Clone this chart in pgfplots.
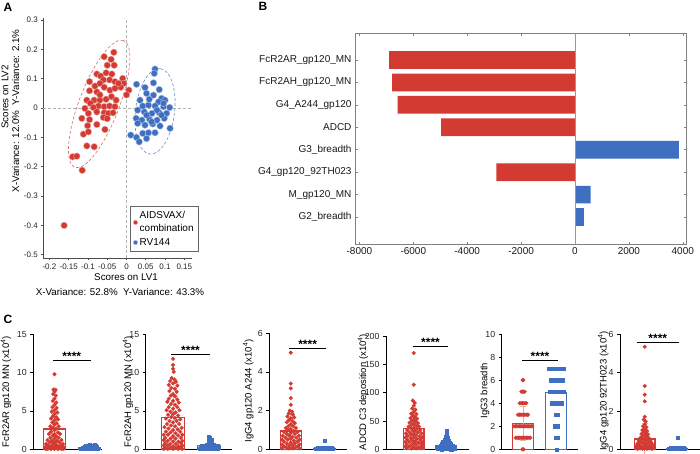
\documentclass[border=0pt]{standalone}
\usepackage{pgfplots}
\pgfplotsset{compat=1.18}
\usetikzlibrary{shapes.geometric}
\usepackage{fontspec}
\setmainfont{Liberation Sans}
\definecolor{cred}{HTML}{D23A32}
\definecolor{cblue}{HTML}{3E6FC1}
\definecolor{ered}{HTML}{F4A9A4}
\definecolor{eblue}{HTML}{A9C0E8}
\pgfplotsset{
 cax/.style={anchor=south west, scale only axis, axis lines=left,
   axis line style={-, line width=0.9pt, black}, xtick=\empty, ymin=0,
   tick align=outside, major tick length=3pt, ytick style={line width=0.9pt, black},
   tick label style={font=\fontsize{8.8}{10}\selectfont, text=black!85}, clip=false,
   /pgf/number format/assume math mode=true},
 rpt/.style={only marks, mark=*, mark size=1.95pt, mark options={fill=cred, draw=cred, line width=0.2pt}, x filter/.expression={x+1}},
 bpt/.style={only marks, mark=square*, mark size=1.65pt, mark options={fill=cblue, draw=cblue, line width=0.2pt}, x filter/.expression={x+2}},
 rbar/.style={ybar, bar width=0.63, bar shift=0pt, draw=cred, line width=1.3pt, fill=none},
 bbar/.style={ybar, bar width=0.63, bar shift=0pt, draw=cblue, line width=1.3pt, fill=none},
}
\newcommand\sig[3]{\draw[line width=0.8pt] (axis cs:#1,#3) -- (axis cs:#2,#3) node[midway, above=-1.5pt, font=\fontsize{12}{12}\selectfont\bfseries, inner sep=1pt]{****};}
\newcommand\errbar[4]{\addplot[mark=none, draw=#1, line width=0.8pt,
   error bars/y dir=both, error bars/y explicit,
   error bars/error bar style={draw=#1, line width=0.8pt},
   error bars/error mark options={draw=#1, rotate=90, mark size=3.2pt, line width=0.8pt}]
   coordinates {(#2,#3) +- (0,#4)};}
\begin{document}
\begin{tikzpicture}
\fill[white] (0pt,0pt) rectangle (700pt,453pt);
\path[use as bounding box] (0pt,0pt) rectangle (700pt,453pt);

% ---------------- Panel A ----------------
\begin{axis}[at={(43.3pt,195pt)}, anchor=south west, scale only axis, width=148.7pt, height=239.7pt,
 xmin=-0.216, xmax=0.170, ymin=-0.511, ymax=0.306,
 axis lines=left, axis line style={-, draw=black!70, line width=0.6pt},
 xtick={-0.2,-0.15,-0.1,-0.05,0,0.05,0.1,0.15}, xticklabels={-0.2,-0.15,-0.1,-0.05,0,0.05,0.1,0.15},
 ytick={-0.5,-0.4,-0.3,-0.2,-0.1,0,0.1,0.2,0.3}, yticklabels={-0.5,-0.4,-0.3,-0.2,-0.1,0,0.1,0.2,0.3},
 tick label style={font=\fontsize{8}{9}\selectfont, text=black!85},
 tick align=outside, major tick length=2pt, tick style={black!70, line width=0.6pt},
 clip=false,
 legend style={at={(0.583,0.025)}, anchor=south west, draw=black!60, line width=0.6pt,
   font=\fontsize{10}{13}\selectfont, cells={anchor=west, align=left}, inner xsep=3pt, inner ysep=3pt, row sep=1pt},
 legend image code/.code={\draw[#1, mark size=2.2pt] plot coordinates {(0pt,0pt)};},
]
\draw[densely dashed, gray!60] (axis cs:0,-0.511) -- (axis cs:0,0.306);
\draw[densely dashed, gray!60] (axis cs:-0.216,0) -- (axis cs:0.170,0);
\addplot[only marks, mark=*, mark size=3.3pt, mark options={fill=cred, draw=white!55!cred, line width=0.4pt}] coordinates {
(-0.033,0.190) (-0.058,0.175) (-0.040,0.166) (-0.050,0.146) (-0.032,0.146) (-0.077,0.116) (-0.067,0.109) (-0.053,0.120) (-0.038,0.116) (-0.060,0.096) (-0.044,0.096) (-0.030,0.090) (-0.010,0.101) (-0.007,0.084) (0.006,0.061) (0.000,0.045) (-0.015,0.071) (-0.021,0.084) (-0.096,0.090) (-0.082,0.075) (-0.069,0.084) (-0.058,0.071) (-0.043,0.061) (-0.030,0.067) (-0.096,0.059) (-0.077,0.055) (-0.103,0.027) (-0.084,0.027) (-0.069,0.027) (-0.053,0.030) (-0.039,0.039) (-0.094,0.016) (-0.073,0.007) (-0.058,0.005) (-0.044,0.007) (-0.030,0.005) (-0.086,0.002) (-0.099,-0.018) (-0.077,-0.013) (-0.058,-0.016) (-0.047,-0.018) (-0.035,-0.016) (-0.060,-0.032) (-0.050,-0.036) (-0.116,-0.035) (-0.096,-0.039) (-0.077,-0.056) (-0.101,-0.060) (-0.056,-0.073) (-0.112,-0.089) (-0.099,-0.081) (-0.103,-0.129) (-0.084,-0.132) (-0.140,-0.166) (-0.129,-0.164) (-0.115,-0.212) (-0.162,-0.400) (-0.069,0.045) (-0.108,-0.001) (-0.027,0.027)};
\addlegendentry{AIDSVAX/\\combination}
\addplot[only marks, mark=*, mark size=3.3pt, mark options={fill=cblue, draw=white!55!cblue, line width=0.4pt}] coordinates {
(0.074,0.133) (0.072,0.118) (0.026,0.081) (0.048,0.070) (0.070,0.086) (0.085,0.063) (0.052,0.050) (0.070,0.044) (0.091,0.033) (0.100,0.027) (0.083,0.021) (0.035,0.027) (0.057,0.010) (0.074,0.007) (0.096,0.005) (0.112,0.002) (0.029,-0.007) (0.046,-0.013) (0.066,-0.018) (0.085,-0.016) (0.104,-0.018) (0.025,-0.035) (0.040,-0.041) (0.060,-0.039) (0.079,-0.041) (0.098,-0.035) (0.029,-0.052) (0.048,-0.058) (0.068,-0.054) (0.087,-0.061) (0.113,-0.069) (0.011,-0.092) (0.026,-0.100) (0.042,-0.086) (0.057,-0.084) (0.074,-0.084) (0.052,-0.104) (0.033,-0.115) (0.065,-0.047) (0.052,-0.024) (0.079,-0.007) (0.091,-0.024) (0.096,0.016) (0.059,0.030) (0.042,0.007)};
\addlegendentry{RV144}
\node[ellipse, draw=cred!75, densely dashed, line width=0.6pt, minimum width=136pt, minimum height=40pt, inner sep=0pt, rotate=69] at (axis cs:-0.071,0.014) {};
\node[ellipse, draw=cblue!80, densely dashed, line width=0.6pt, minimum width=86pt, minimum height=39pt, inner sep=0pt, rotate=83] at (axis cs:0.074,-0.011) {};
\end{axis}
\node[font=\fontsize{12}{12}\selectfont\bfseries] at (8pt,446pt) {A};
\node[font=\fontsize{9.8}{11}\selectfont] at (126pt,176pt) {Scores on LV1};
\node[font=\fontsize{9.8}{11}\selectfont] at (120pt,161pt) {X-Variance: 52.8\%\ \ Y-Variance: 43.3\%};
\node[font=\fontsize{9.8}{11}\selectfont, rotate=90] at (5pt,356pt) {Scores on LV2};
\node[font=\fontsize{9.8}{11}\selectfont, rotate=90] at (15.5pt,342pt) {X-Variance: 12.0\%\ \ Y-Variance: 2.1\%};

% ---------------- Panel B ----------------
\begin{axis}[at={(355pt,209pt)}, anchor=south west, scale only axis, width=331pt, height=211pt,
 xmin=-8163, xmax=4119, ymin=-0.2, ymax=9.2, y dir=reverse,
 ytick={1,2,3,4,5,6,7,8},
 yticklabels={FcR2AR\_gp120\_MN, FcR2AH\_gp120\_MN, G4\_A244\_gp120, ADCD, G3\_breadth, G4\_gp120\_92TH023, M\_gp120\_MN, G2\_breadth},
 xtick={-8000,-6000,-4000,-2000,0,2000,4000}, xticklabels={-8000,-6000,-4000,-2000,0,2000,4000},
 tick label style={font=\fontsize{10}{12}\selectfont, text=black!90},
 axis line style={draw=black!50, line width=0.8pt}, tick style={black!50, line width=0.6pt},
 major tick length=2.5pt, tick align=inside,
]
\addplot[xbar, bar width=0.79, bar shift=0pt, fill=cred, draw=none] coordinates {(-6900,1) (-6790,2) (-6580,3) (-4970,4) (-2920,6)};
\addplot[xbar, bar width=0.79, bar shift=0pt, fill=cblue, draw=none] coordinates {(3850,5) (580,7) (330,8)};
\draw[black!40, line width=0.8pt] (axis cs:0,-0.2) -- (axis cs:0,9.2);
\end{axis}
\node[font=\fontsize{12}{12}\selectfont\bfseries] at (263pt,447pt) {B};

% ---------------- Panel C ----------------
\node[font=\fontsize{12}{12}\selectfont\bfseries] at (8pt,134pt) {C};

% C1
\begin{axis}[cax, at={(33.3pt,3.7pt)}, width=68.7pt, height=115pt, xmin=0.394, xmax=2.357, ymax=15, ytick={0,5,10,15}]
\addplot[rpt] coordinates {(0,9.8) (-0.03,7.8) (0.03,7.75) (0,7.5) (-0.04,7.2) (0.04,7.0) (0,6.6) (-0.05,6.3) (0.05,6.1) (0,5.8) (-0.06,5.5) (0.06,5.4) (0,5.1) (-0.08,4.9) (0.08,4.8) (0,4.6) (-0.05,4.3) (0.05,4.2) (-0.1,4.0) (0.1,3.9) (0,3.8) (-0.06,3.5) (0.06,3.4) (0,3.2) (-0.12,3.0) (0.12,3.0) (-0.05,2.8) (0.05,2.7) (0,2.5) (-0.1,2.3) (0.1,2.2) (-0.16,2.0) (0.16,2.0) (0,2.0) (-0.05,1.8) (0.05,1.7) (-0.12,1.5) (0.12,1.5) (0,1.4) (-0.2,1.2) (0.2,1.2) (-0.07,1.1) (0.07,1.1) (0,0.9) (-0.14,0.9) (0.14,0.9) (-0.24,0.7) (0.24,0.7) (-0.05,0.7) (0.05,0.6) (-0.18,0.5) (0.18,0.5) (0,0.4) (-0.1,0.4) (0.1,0.4) (-0.26,0.3) (0.26,0.3) (-0.22,0.15) (0.22,0.15) (-0.14,0.15) (0.14,0.15) (-0.05,0.15) (0.05,0.15) (-0.26,0.05) (0.26,0.05) (-0.2,0.05) (0.2,0.05) (-0.1,0.05) (0.1,0.05) (0,0.05)};
\addplot[bpt] coordinates {(-0.26,0.05) (-0.19,0.05) (-0.12,0.05) (-0.05,0.05) (0.02,0.05) (0.09,0.05) (0.16,0.05) (0.23,0.05) (-0.2,0.15) (-0.1,0.15) (0,0.15) (0.1,0.15) (0.2,0.15) (-0.15,0.3) (-0.05,0.3) (0.1,0.3) (0.2,0.3) (-0.1,0.45) (0.05,0.45) (0.18,0.45) (0.0,0.6) (0.15,0.6)};
\addplot[rbar] coordinates {(1,2.65)};
\addplot[bbar] coordinates {(2,0.25)};
\errbar{ered}{1}{2.65}{2.5}
\sig{0.95}{2.04}{11.6}
\end{axis}

% C2
\begin{axis}[cax, at={(145.7pt,3.7pt)}, width=86pt, height=115pt, xmin=0.235, xmax=2.64, ymax=15, ytick={0,5,10,15}]
\addplot[rpt] coordinates {(0,11.8) (0,11.0) (0,10.5) (0.02,10.1) (-0.04,9.3) (0.04,9.1) (-0.08,8.9) (0.08,8.8) (0,8.6) (-0.12,8.4) (0.12,8.3) (-0.05,8.0) (0.05,7.9) (-0.1,7.6) (0.1,7.5) (0,7.2) (-0.06,7.0) (0.06,6.9) (-0.12,6.6) (0.12,6.5) (0,6.3) (-0.16,6.2) (0.16,6.1) (-0.06,5.9) (0.06,5.8) (-0.12,5.5) (0.12,5.5) (0,5.3) (-0.18,5.1) (0.18,5.1) (-0.07,4.9) (0.07,4.8) (0,4.6) (-0.14,4.5) (0.14,4.4) (-0.05,4.2) (0.05,4.1) (-0.2,4.0) (0.2,3.9) (-0.1,3.7) (0.1,3.7) (0,3.5) (-0.17,3.3) (0.17,3.3) (-0.06,3.1) (0.06,3.0) (-0.24,2.9) (0.24,2.8) (-0.13,2.7) (0.13,2.6) (0,2.5) (-0.2,2.3) (0.2,2.3) (-0.07,2.2) (0.07,2.1) (-0.26,1.9) (0.26,1.9) (-0.14,1.9) (0.14,1.8) (0,1.7) (-0.22,1.5) (0.22,1.5) (-0.07,1.4) (0.07,1.4) (-0.26,1.2) (0.26,1.1) (-0.15,1.1) (0.15,1.0) (0,1.0) (-0.22,0.8) (0.22,0.8) (-0.08,0.7) (0.08,0.7) (-0.26,0.5) (0.26,0.5) (-0.15,0.5) (0.15,0.4) (0,0.4) (-0.22,0.2) (0.22,0.2) (-0.08,0.2) (0.08,0.2) (-0.26,0.05) (0.26,0.05) (-0.15,0.05) (0.15,0.05) (0,0.05)};
\addplot[bpt] coordinates {(-0.26,0.05) (-0.19,0.05) (-0.12,0.05) (-0.05,0.05) (0.02,0.05) (0.09,0.05) (0.16,0.05) (0.23,0.05) (-0.22,0.15) (-0.14,0.15) (-0.06,0.15) (0.02,0.15) (0.1,0.15) (0.18,0.15) (0.24,0.15) (-0.16,0.3) (-0.08,0.3) (0,0.3) (0.08,0.3) (0.16,0.3) (-0.2,0.45) (-0.08,0.45) (0.04,0.45) (0.14,0.45) (0.24,0.45) (-0.05,0.6) (0.05,0.6) (0.12,0.6) (0.0,0.8) (0.08,0.8) (0.02,1.0) (0.0,1.2) (0.06,1.2) (0.02,1.45) (0.0,1.6)};
\addplot[rbar] coordinates {(1,4.12)};
\addplot[bbar] coordinates {(2,0.5)};
\errbar{ered}{1}{4.12}{2.9}
\sig{0.94}{2.04}{12.4}
\end{axis}

% C3
\begin{axis}[cax, at={(269.3pt,3.7pt)}, width=77.4pt, height=116pt, xmin=0.362, xmax=2.66, ymax=6, ytick={0,2,4,6}]
\addplot[rpt] coordinates {(0,5.0) (0,3.4) (0,3.15) (0,2.65) (0,2.3) (-0.03,2.0) (0.04,1.95) (-0.06,1.85) (0.06,1.8) (-0.1,1.7) (0.1,1.65) (0,1.6) (-0.06,1.5) (0.06,1.45) (-0.12,1.4) (0.12,1.35) (0,1.3) (-0.07,1.2) (0.07,1.2) (-0.15,1.1) (0.15,1.1) (0,1.05) (-0.08,1.0) (0.08,0.95) (-0.2,0.9) (0.2,0.9) (0,0.85) (-0.12,0.8) (0.12,0.8) (-0.24,0.7) (0.24,0.7) (-0.05,0.7) (0.05,0.65) (-0.16,0.6) (0.16,0.6) (0,0.55) (-0.26,0.5) (0.26,0.5) (-0.09,0.5) (0.09,0.45) (-0.2,0.4) (0.2,0.4) (0,0.35) (-0.12,0.3) (0.12,0.3) (-0.26,0.25) (0.26,0.25) (-0.05,0.2) (0.05,0.2) (-0.2,0.15) (0.2,0.15) (-0.14,0.1) (0.14,0.1) (-0.26,0.05) (0.26,0.05) (0,0.05) (-0.07,0.05) (0.07,0.05)};
\addplot[bpt] coordinates {(0,0.45) (-0.26,0.03) (-0.19,0.03) (-0.12,0.03) (-0.05,0.03) (0.02,0.03) (0.09,0.03) (0.16,0.03) (0.23,0.03) (-0.2,0.08) (-0.12,0.08) (-0.04,0.08) (0.04,0.08) (0.12,0.08) (0.2,0.08)};
\addplot[rbar] coordinates {(1,0.95)};
\addplot[bbar] coordinates {(2,0.05)};
\errbar{ered}{1}{0.95}{0.9}
\sig{0.95}{2.05}{5.22}
\end{axis}

% C4
\begin{axis}[cax, at={(386pt,3.7pt)}, width=83pt, height=113.3pt, xmin=0.145, xmax=2.70, ymax=200, ytick={0,50,100,150,200}]
\addplot[rpt] coordinates {(0,170) (0,114) (-0.03,86) (0.03,82) (0,77) (-0.05,72) (0.05,70) (0,66) (-0.08,63) (0.08,62) (-0.03,59) (0.04,57) (-0.1,55) (0.1,54) (0,52) (-0.06,50) (0.06,49) (-0.13,47) (0.13,46) (0,45) (-0.07,43) (0.07,42) (-0.16,40) (0.16,40) (0,38) (-0.09,37) (0.09,36) (-0.2,34) (0.2,34) (-0.03,33) (0.03,32) (-0.13,30) (0.13,30) (-0.24,28) (0.24,28) (0,27) (-0.07,26) (0.07,25) (-0.18,24) (0.18,23) (-0.26,21) (0.26,21) (0,21) (-0.1,20) (0.1,19) (-0.2,17) (0.2,17) (-0.05,16) (0.05,15) (-0.26,13) (0.26,13) (-0.14,13) (0.14,12) (0,11) (-0.22,9) (0.22,9) (-0.07,8) (0.07,8) (-0.26,5) (0.26,5) (-0.15,5) (0.15,4) (0,4) (-0.22,2) (0.22,2) (-0.07,1.5) (0.07,1.5)};
\addplot[bpt] coordinates {(0,33) (0,25) (-0.03,22) (0.03,20) (0,18) (-0.06,16) (0.06,15) (0,14) (-0.1,13) (0.1,12) (-0.04,11) (0.04,10.5) (-0.14,9.5) (0.14,9) (0,8.5) (-0.08,8) (0.08,7.5) (-0.18,6.5) (0.18,6.5) (0,6) (-0.1,5.5) (0.1,5) (-0.24,4.5) (0.24,4.5) (-0.03,4) (0.05,3.8) (-0.16,3.5) (0.16,3.2) (-0.26,2.5) (0.26,2.5) (0,2.5) (-0.1,2) (0.1,2) (-0.2,1.5) (0.2,1.5) (-0.26,0.8) (0.26,0.8) (-0.05,0.8) (0.05,0.8) (-0.15,0.5) (0.15,0.5)};
\addplot[rbar] coordinates {(1,36.4)};
\addplot[bbar] coordinates {(2,7)};
\errbar{ered}{1}{36.4}{25}
\errbar{eblue}{2}{7}{6}
\sig{0.98}{2.05}{181}
\end{axis}

% C5
\begin{axis}[cax, at={(501.7pt,3.7pt)}, width=76.6pt, height=115.3pt, xmin=0.36, xmax=2.66, ymax=10, ytick={0,2,4,6,8,10}]
\addplot[rpt] coordinates {(-0.02,0) (0.02,0)
(-0.22,1) (-0.18,1) (-0.14,1) (-0.10,1) (-0.06,1) (-0.02,1) (0.02,1) (0.06,1) (0.10,1) (0.14,1) (0.18,1) (0.22,1)
(-0.27,2) (-0.23,2) (-0.19,2) (-0.15,2) (-0.11,2) (-0.07,2) (-0.03,2) (0.01,2) (0.05,2) (0.09,2) (0.13,2) (0.17,2) (0.21,2) (0.25,2) (0.27,2)
(-0.15,3) (-0.11,3) (-0.07,3) (-0.03,3) (0.01,3) (0.05,3) (0.09,3) (0.13,3) (0.15,3)
(-0.10,4) (-0.06,4) (-0.02,4) (0.02,4) (0.06,4) (0.10,4)
(-0.05,5) (-0.02,5) (0.02,5) (0.05,5)
(-0.01,6) (0.01,6)};
\addplot[bpt] coordinates {(0,0) (-0.02,1) (0.02,1) (-0.05,2) (-0.01,2) (0.03,2) (-0.02,3) (0.02,3)
(-0.14,4) (-0.10,4) (-0.06,4) (-0.02,4) (0.02,4) (0.06,4) (0.10,4) (0.14,4)
(-0.20,5) (-0.16,5) (-0.12,5) (-0.08,5) (-0.04,5) (0,5) (0.04,5) (0.08,5) (0.12,5) (0.16,5) (0.20,5)
(-0.18,6) (-0.14,6) (-0.10,6) (-0.06,6) (-0.02,6) (0.02,6) (0.06,6) (0.10,6) (0.14,6) (0.18,6)
(-0.22,7) (-0.18,7) (-0.14,7) (-0.10,7) (-0.06,7) (-0.02,7) (0.02,7) (0.06,7) (0.10,7) (0.14,7) (0.18,7) (0.22,7)};
\addplot[rbar] coordinates {(1,2.25)};
\addplot[bbar] coordinates {(2,4.91)};
\errbar{ered}{1}{2.25}{1.5}
\sig{0.97}{2.05}{7.68}
\end{axis}

% C6
\begin{axis}[cax, at={(620pt,3.7pt)}, width=80pt, height=115pt, xmin=0.24, xmax=2.70, ymax=6, ytick={0,2,4,6}]
\addplot[rpt] coordinates {(0,5.35) (0,3.3) (0,2.85) (0,2.5) (0,1.7) (-0.03,1.55) (0.03,1.45) (0,1.3) (-0.05,1.2) (0.05,1.15) (0,1.05) (-0.07,1.0) (0.07,0.95) (-0.03,0.9) (0.03,0.85) (-0.1,0.8) (0.1,0.78) (0,0.72) (-0.06,0.68) (0.06,0.65) (-0.13,0.6) (0.13,0.58) (0,0.55) (-0.08,0.5) (0.08,0.48) (-0.18,0.45) (0.18,0.42) (0,0.4) (-0.11,0.36) (0.11,0.34) (-0.22,0.3) (0.22,0.3) (-0.04,0.28) (0.04,0.26) (-0.16,0.22) (0.16,0.2) (-0.26,0.18) (0.26,0.16) (0,0.15) (-0.09,0.13) (0.09,0.12) (-0.2,0.1) (0.2,0.09) (-0.26,0.06) (0.26,0.06) (-0.14,0.05) (0.14,0.05) (0,0.04) (-0.07,0.03) (0.07,0.03) (-0.22,0.02) (0.22,0.02)};
\addplot[bpt] coordinates {(0,0.6) (-0.26,0.03) (-0.19,0.03) (-0.12,0.03) (-0.05,0.03) (0.02,0.03) (0.09,0.03) (0.16,0.03) (0.23,0.03) (-0.2,0.07) (-0.12,0.07) (-0.04,0.07) (0.04,0.07) (0.12,0.07) (0.2,0.07)};
\addplot[rbar] coordinates {(1,0.54)};
\addplot[bbar] coordinates {(2,0.03)};
\errbar{ered}{1}{0.54}{0.8}
\sig{0.75}{2.055}{5.56}
\end{axis}

% C y labels
\begin{scope}[every node/.style={font=\fontsize{9.5}{11}\selectfont, rotate=90}]
\node at (6pt,61.3pt) {FcR2AR gp120 MN (x10\textsuperscript{4})};
\node at (128pt,61.3pt) {FcR2AH gp120 MN (x10\textsuperscript{4})};
\node at (248.3pt,62pt) {IgG4 gp120 A244 (x10\textsuperscript{4})};
\node at (363pt,61pt) {ADCD C3 deposition (x10\textsuperscript{4})};
\node at (485pt,62.3pt) {IgG3 breadth};
\node at (603.3pt,62pt) {IgG4 gp120 92TH023 (x10\textsuperscript{4})};
\end{scope}
\end{tikzpicture}
\end{document}
